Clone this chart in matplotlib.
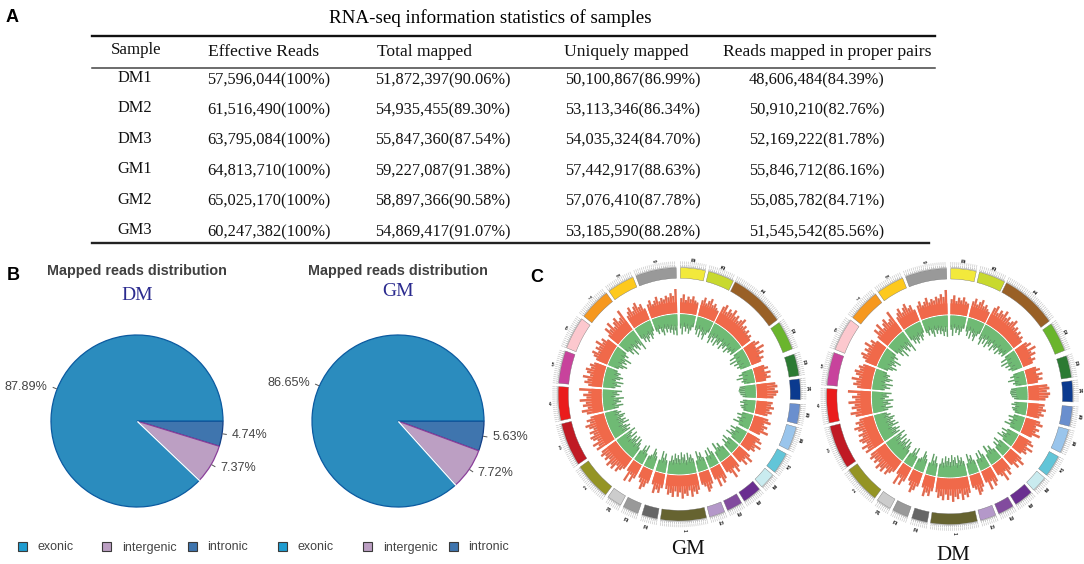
"""Figure with RNA-seq table, mapped reads pies and two circular coverage plots."""

import numpy as np
import matplotlib
matplotlib.use("Agg")
import matplotlib.pyplot as plt
from matplotlib.patches import Rectangle

W, H = 1084, 564

TABLE_TITLE = "RNA-seq information statistics of samples"
TABLE_HEADER = ["Sample", "Effective Reads", "Total mapped", "Uniquely mapped",
                "Reads mapped in proper pairs"]
SAMPLES = ["DM1", "DM2", "DM3", "GM1", "GM2", "GM3"]
EFFECTIVE = ["57,596,044(100%)", "61,516,490(100%)", "63,795,084(100%)",
             "64,813,710(100%)", "65,025,170(100%)", "60,247,382(100%)"]
TOTAL_MAPPED = ["51,872,397(90.06%)", "54,935,455(89.30%)", "55,847,360(87.54%)",
                "59,227,087(91.38%)", "58,897,366(90.58%)", "54,869,417(91.07%)"]
UNIQUELY = ["50,100,867(86.99%)", "53,113,346(86.34%)", "54,035,324(84.70%)",
            "57,442,917(88.63%)", "57,076,410(87.78%)", "53,185,590(88.28%)"]
PROPER_PAIRS = ["48,606,484(84.39%)", "50,910,210(82.76%)", "52,169,222(81.78%)",
                "55,846,712(86.16%)", "55,085,782(84.71%)", "51,545,542(85.56%)"]

PIE_LABELS = ["intronic", "intergenic", "exonic"]
PIE_DM = [4.74, 7.37, 87.89]
PIE_GM = [5.63, 7.72, 86.65]

# chromosome sectors, clockwise from 12 o'clock, in degrees
CHROM_LABELS = ["10", "25", "11", "12", "13", "14", "15", "16", "17", "18", "19", "20", "21",
                "1", "22", "23", "24", "2", "3", "4", "5", "6", "7", "8", "9"]
CHROM_START = [0.5, 14, 27.5, 55.5, 71.5, 83, 94.5, 105, 118, 129.5, 138.5, 149, 158,
               167, 190.5, 200, 209, 217.5, 236.5, 258, 275, 291.5, 308, 324.5, 339]
CHROM_END = [12.5, 26.5, 54, 69, 81.5, 92.5, 103.5, 116, 128, 137, 147.5, 156.5, 165.5,
             189, 198, 207.5, 216, 235, 256.5, 273.5, 290, 306.5, 323, 337.5, 358.5]
CHROM_COLORS = ["#f2e93c", "#c8d92e", "#996026", "#6ab52d", "#2c7a33", "#0b3a8f", "#6a8fce",
                "#9ac5ec", "#62c5d8", "#c9ebef", "#6a2e90", "#824b9e", "#b498c9", "#666330",
                "#666666", "#999999", "#cccccc", "#949424", "#c01a24", "#ea1c1c", "#c8439c",
                "#fcc8ce", "#f6981e", "#fdc91e", "#999999"]

# coverage per chromosome, read by eye in percent of track height;
# the two samples look the same at this resolution so both use these
RED_TRACK = [
    [62, 78, 55, 70, 60, 74, 58, 52],
    [66, 80, 58, 72, 84, 60, 70, 56, 48],
    [75, 88, 62, 80, 70, 90, 66, 78, 60, 72, 85, 58, 68, 52, 64, 48, 58, 44],
    [58, 72, 48, 82, 56, 70, 44, 60, 38],
    [50, 64, 44, 70, 52, 66, 40],
    [82, 90, 78, 92, 84, 72],
    [70, 64, 78, 60, 72, 55],
    [64, 78, 52, 70, 58, 82, 50],
    [60, 74, 50, 82, 58, 66, 46],
    [62, 84, 54, 76, 50],
    [58, 76, 50, 88, 60, 48],
    [66, 80, 54, 86, 50],
    [60, 78, 88, 62, 52],
    [68, 84, 72, 92, 64, 86, 76, 96, 70, 88, 66, 90, 74, 82, 60],
    [60, 82, 70, 88, 54],
    [58, 78, 92, 66, 50],
    [64, 86, 58, 94, 52],
    [56, 70, 86, 64, 90, 78, 94, 68, 84, 72, 88, 76],
    [88, 72, 94, 66, 82, 90, 70, 84, 62, 78, 92, 68, 80, 60],
    [72, 92, 64, 84, 70, 96, 66, 80, 58, 98],
    [60, 78, 66, 88, 58, 74, 82, 62, 70, 54],
    [52, 68, 80, 56, 74, 62, 86, 58, 70, 48],
    [56, 84, 66, 92, 60, 76, 88, 64, 72, 100],
    [58, 72, 86, 62, 78, 90, 66, 74, 50],
    [60, 74, 54, 66, 80, 58, 70, 62, 76, 68, 84, 72, 100],
]
GREEN_TRACK = [
    [62, 88, 55, 74, 60, 82, 66, 50],
    [60, 78, 52, 86, 58, 72, 90, 64, 48],
    [70, 92, 60, 80, 54, 88, 66, 74, 50, 84, 62, 70, 46, 78, 56, 64, 42, 60],
    [48, 76, 44, 84, 52, 70, 40, 62, 36],
    [44, 66, 40, 80, 50, 60, 36],
    [72, 76, 78, 74, 70, 60],
    [58, 70, 52, 66, 60, 46],
    [50, 72, 44, 66, 54, 80, 42],
    [54, 78, 46, 70, 60, 84, 44],
    [58, 82, 50, 72, 46],
    [52, 76, 60, 88, 44],
    [62, 84, 48, 78, 50],
    [56, 80, 66, 90, 48],
    [64, 82, 70, 92, 60, 86, 74, 96, 66, 84, 70, 90, 62, 80, 56],
    [56, 84, 64, 92, 50],
    [60, 76, 90, 58, 46],
    [52, 88, 62, 80, 44],
    [54, 72, 88, 60, 92, 70, 84, 58, 96, 66, 78, 100],
    [82, 68, 90, 74, 60, 94, 70, 84, 64, 78, 88, 62, 74, 58],
    [68, 90, 60, 82, 72, 96, 58, 76, 66, 88],
    [56, 80, 62, 90, 54, 72, 84, 60, 68, 50],
    [50, 70, 86, 58, 76, 64, 92, 54, 68, 46],
    [52, 78, 62, 96, 58, 72, 86, 60, 74, 100],
    [54, 76, 62, 84, 70, 58, 80, 66, 48],
    [58, 72, 50, 68, 84, 56, 74, 60, 78, 66, 88, 70, 92],
]

SERIF = "Liberation Serif"
SANS = "Liberation Sans"
PIE_FILL = {"intronic": "#3f75ae", "intergenic": "#bc9fc3", "exonic": "#2b8cbe"}
PIE_EDGE = {"intronic": "#123f86", "intergenic": "#8a3f9a", "exonic": "#0b5aa0"}

RED_BASE, RED_SPAN, RED_SOLID = 0.642, 0.19, 0.085
GREEN_BASE, GREEN_SPAN, GREEN_SOLID = 0.632, 0.18, 0.09


def px_axes(fig, x0, y0, x1, y1, **kwargs):
    """Axes from a pixel box, y counted from the top of the image."""
    return fig.add_axes([x0 / W, 1 - y1 / H, (x1 - x0) / W, (y1 - y0) / H], **kwargs)


def draw_table(ov):
    ov.text(490, 18, TABLE_TITLE, family=SERIF, fontsize=13.7, ha="center", va="center")
    ov.plot([92, 935], [36, 36], color="#111111", lw=1.7)
    ov.plot([92, 935], [68, 68], color="#444444", lw=1.1)
    ov.plot([92, 929], [243, 243], color="#222222", lw=1.7)
    header_x = [136, 208, 377, 564, 723]
    for x, label in zip(header_x, TABLE_HEADER):
        sample = label == "Sample"
        ov.text(x, 50 if sample else 52, label, family=SERIF, fontsize=12.2 if sample else 12.6,
                ha="center" if sample else "left", va="center", color="#111111")
    rows_y = np.linspace(80, 232, len(SAMPLES))
    for i, y in enumerate(rows_y):
        ov.text(135, y - 2, SAMPLES[i], family=SERIF, fontsize=11.8, ha="center", va="center",
                color="#111111")
        ov.text(207, y, EFFECTIVE[i], family=SERIF, fontsize=11.8, va="center", color="#111111")
        ov.text(375, y, TOTAL_MAPPED[i], family=SERIF, fontsize=11.8, va="center", color="#111111")
        ov.text(565, y, UNIQUELY[i], family=SERIF, fontsize=11.8, va="center", color="#111111")
        ov.text(749, y, PROPER_PAIRS[i], family=SERIF, fontsize=11.8, va="center", color="#111111")


def draw_pie(fig, ov, cx, cy, values, name, name_y):
    r = 86
    ax = px_axes(fig, cx - r, cy - r, cx + r, cy + r)
    wedges, _ = ax.pie(values, startangle=0, counterclock=False, radius=1.0,
                       colors=[PIE_FILL[k] for k in PIE_LABELS],
                       wedgeprops={"linewidth": 0.9})
    for wedge, key in zip(wedges, PIE_LABELS):
        wedge.set_edgecolor(PIE_EDGE[key])
    ax.set_xlim(-1, 1)
    ax.set_ylim(-1, 1)
    ax.set_aspect("auto")
    ax.axis("off")
    for wedge, v in zip(wedges, values):
        # clip_on off since the outline sits on the axes edge
        wedge.set_clip_on(False)
        mid = np.deg2rad((wedge.theta1 + wedge.theta2) / 2)
        ux, uy = np.cos(mid), np.sin(mid)
        ov.plot([cx + ux * r * 1.01, cx + ux * r * 1.05], [cy - uy * r * 1.01, cy - uy * r * 1.05],
                color="#555555", lw=0.7)
        ha = "left" if ux > 0 else "right"
        ov.text(cx + ux * r * 1.08 + (3 if ux > 0 else -3), cy - uy * r * 1.08, f"{v:.2f}%",
                family=SANS, fontsize=9.1, ha=ha, va="center", color="#444444")
    # white seam between exonic and intergenic
    seam = np.deg2rad(wedges[1].theta1)
    ax.plot([0.015 * np.cos(seam), np.cos(seam)], [0.015 * np.sin(seam), np.sin(seam)],
            color="white", lw=1.0, clip_on=False)
    ov.text(cx, 271, "Mapped reads distribution", family=SANS, fontsize=10.35, weight="bold",
            ha="center", va="center", color="#404040")
    ov.text(cx, name_y, name, family=SERIF, fontsize=14, ha="center", va="center", color="#2b2b8f")


def draw_legend(ov, box_x, text_x):
    for key, bx, tx in zip(["exonic", "intergenic", "intronic"], box_x, text_x):
        ov.add_patch(Rectangle((bx - 4.5, 542), 9, 8.5, facecolor=PIE_FILL[key] if key != "exonic"
                               else "#1f9cd0", edgecolor="#3a3a3a", lw=0.8))
        ov.text(tx, 550.5, key, family=SANS, fontsize=9, va="baseline", color="#444444")


def draw_circos(fig, cx, cy, rx, ry):
    pad = 1.2
    ax = px_axes(fig, cx - rx * pad, cy - ry * pad, cx + rx * pad, cy + ry * pad,
                 projection="polar")
    ax.set_theta_zero_location("N")
    ax.set_theta_direction(-1)
    ax.set_aspect("auto")
    ax.set_ylim(0, pad)
    ax.axis("off")
    for i, label in enumerate(CHROM_LABELS):
        t0, t1 = np.deg2rad(CHROM_START[i]), np.deg2rad(CHROM_END[i])
        mid = (t0 + t1) / 2
        # outer coloured band
        ax.bar(mid, 0.083, width=t1 - t0, bottom=0.917, color=CHROM_COLORS[i],
               edgecolor="#666666", linewidth=0.25)
        # scale ticks and their tiny numbers show up as a grey fringe
        ticks = np.arange(t0, t1 + 1e-6, np.deg2rad(0.9))
        ax.vlines(ticks, 1.008, 1.024, color="#888888", lw=0.3)
        ax.vlines(ticks, 1.028, 1.05, color="#c4c4c4", lw=0.45)
        ax.plot(np.linspace(t0, t1, 20), np.full(20, 1.006), color="#888888", lw=0.3)
        deg = np.rad2deg(mid)
        rot = 90 - deg if deg < 180 else 270 - deg
        ax.text(mid, 1.072, label, family=SANS, fontsize=3.3, ha="center", va="center",
                rotation=rot, rotation_mode="anchor", color="#222222", weight="bold")

        # tracks: a solid band with the spikes on top of it
        ax.bar(mid, RED_SOLID, width=t1 - t0, bottom=RED_BASE, color="#f0694a", linewidth=0)
        ax.bar(mid, GREEN_SOLID, width=t1 - t0, bottom=GREEN_BASE - GREEN_SOLID, color="#6fba74",
               linewidth=0)
        n = len(RED_TRACK[i])
        step = (t1 - t0) / n
        pos = t0 + step * (np.arange(n) + 0.5)
        red = np.array(RED_TRACK[i]) / 100 * RED_SPAN
        ax.bar(pos, red, width=step * 0.95, bottom=RED_BASE, color="#f0694a", linewidth=0)
        ax.vlines(pos, RED_BASE + red * 0.75, RED_BASE + red, color="#a07a70", lw=0.3)
        m = len(GREEN_TRACK[i])
        step = (t1 - t0) / m
        pos = t0 + step * (np.arange(m) + 0.5)
        green = np.array(GREEN_TRACK[i]) / 100 * GREEN_SPAN
        ax.bar(pos, green, width=step * 0.95, bottom=GREEN_BASE - green, color="#6fba74",
               linewidth=0)
        ax.vlines(pos, GREEN_BASE - green, GREEN_BASE - green * 0.65, color="#5f7a64", lw=0.35)


fig = plt.figure(figsize=(W / 100, H / 100), dpi=100, facecolor="white")
overlay = fig.add_axes([0, 0, 1, 1], zorder=5)
overlay.set_xlim(0, W)
overlay.set_ylim(H, 0)
overlay.axis("off")

for letter, x, y in [("A", 12, 18), ("B", 13, 276), ("C", 537, 278)]:
    overlay.text(x, y, letter, family=SANS, fontsize=13, weight="bold", ha="center", va="center")

draw_table(overlay)

draw_pie(fig, overlay, 137, 421, PIE_DM, "DM", 296)
draw_pie(fig, overlay, 398, 421, PIE_GM, "GM", 292)
draw_legend(overlay, [22, 106, 192], [37, 122, 207])
draw_legend(overlay, [282, 367, 453], [298, 383, 468])

draw_circos(fig, 679.3, 394.3, 121, 126.6)
draw_circos(fig, 949.7, 396.4, 123, 128)
overlay.text(688, 550, "GM", family=SERIF, fontsize=15, ha="center", va="center", color="#111111")
overlay.text(953, 556, "DM", family=SERIF, fontsize=15, ha="center", va="center", color="#111111")

fig.savefig("out.png", dpi=100)
plt.close(fig)
